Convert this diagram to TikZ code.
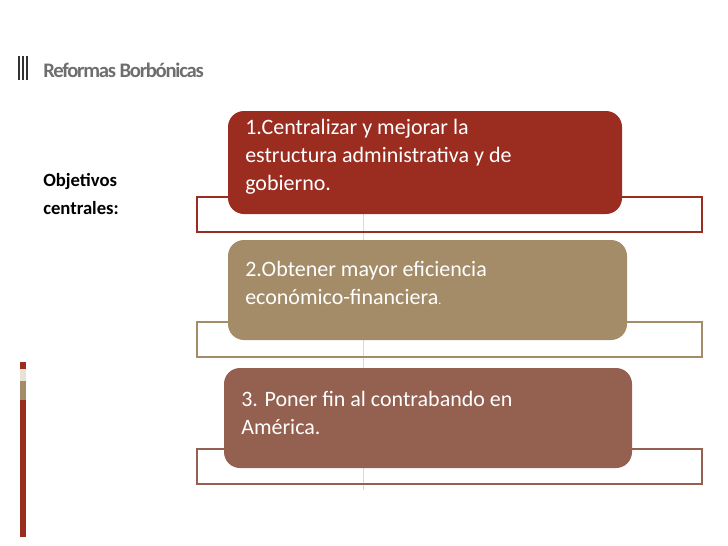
\documentclass[tikz,border=0pt]{standalone}
\usepackage{fontspec}
\setmainfont{Carlito}
\definecolor{redbox}{RGB}{155,45,32}
\definecolor{tanbox}{RGB}{165,140,105}
\definecolor{brownbox}{RGB}{148,96,79}
\definecolor{titlegrey}{RGB}{110,110,110}
\definecolor{lightbar}{RGB}{230,226,214}
\tikzset{
  goalbox/.style={rounded corners=12pt, inner sep=0pt},
  goaltext/.style={anchor=north west, inner sep=0.75pt, align=left, text=white, font=\fontsize{16.5}{21}\selectfont},
  frame/.style={line width=1.4pt}
}
\begin{document}
\begin{tikzpicture}[x=0.75pt,y=0.75pt,yscale=-1,xscale=1]
\useasboundingbox (0,0) rectangle (728,546);

% title marks
\fill [black!80] (18,56) rectangle (20,80);
\fill [black!80] (22,56) rectangle (24,80);
\fill [black!80] (25.5,56) rectangle (27.5,80);
\draw (42,70) node [anchor=west][inner sep=0.75pt] [text=titlegrey, font=\fontsize{15.5}{18}\selectfont\bfseries\addfontfeature{LetterSpace=-6}] (title) {Reformas Borbónicas};

% side bar
\fill [redbox] (20,362) rectangle (26,369);
\fill [lightbar] (20,369) rectangle (26,381);
\fill [tanbox] (20,381) rectangle (26,400);
\fill [redbox] (20,400) rectangle (26,537);

% label
\draw (42,172) node [anchor=north west][inner sep=0.75pt] [font=\fontsize{14}{21}\selectfont\bfseries] [align=left] (label) {Objetivos\\centrales:};

% spine
\draw [black!15, line width=0.6pt] (363,214) -- (363,490);

% frames
\draw [frame, redbox] (197,197) rectangle (702,232);
\draw [frame, tanbox] (197,322) rectangle (702,357);
\draw [frame, brownbox] (197,449) rectangle (702,484);

% boxes
\fill [goalbox, redbox] (228,111) rectangle (622,214);
\fill [goalbox, tanbox] (228,240) rectangle (627,340);
\fill [goalbox, brownbox] (224,368) rectangle (632,468);

\draw (244,118) node [goaltext] (goala) {1.Centralizar y mejorar la\\estructura administrativa y de\\gobierno.};
\draw (244,260) node [goaltext] (goalb) {2.Obtener mayor eficiencia\\económico-financiera{\fontsize{9}{9}\selectfont.}};
\draw (240,390) node [goaltext] (goalc) {3. Poner fin al contrabando en\\América.};

\end{tikzpicture}
\end{document}
